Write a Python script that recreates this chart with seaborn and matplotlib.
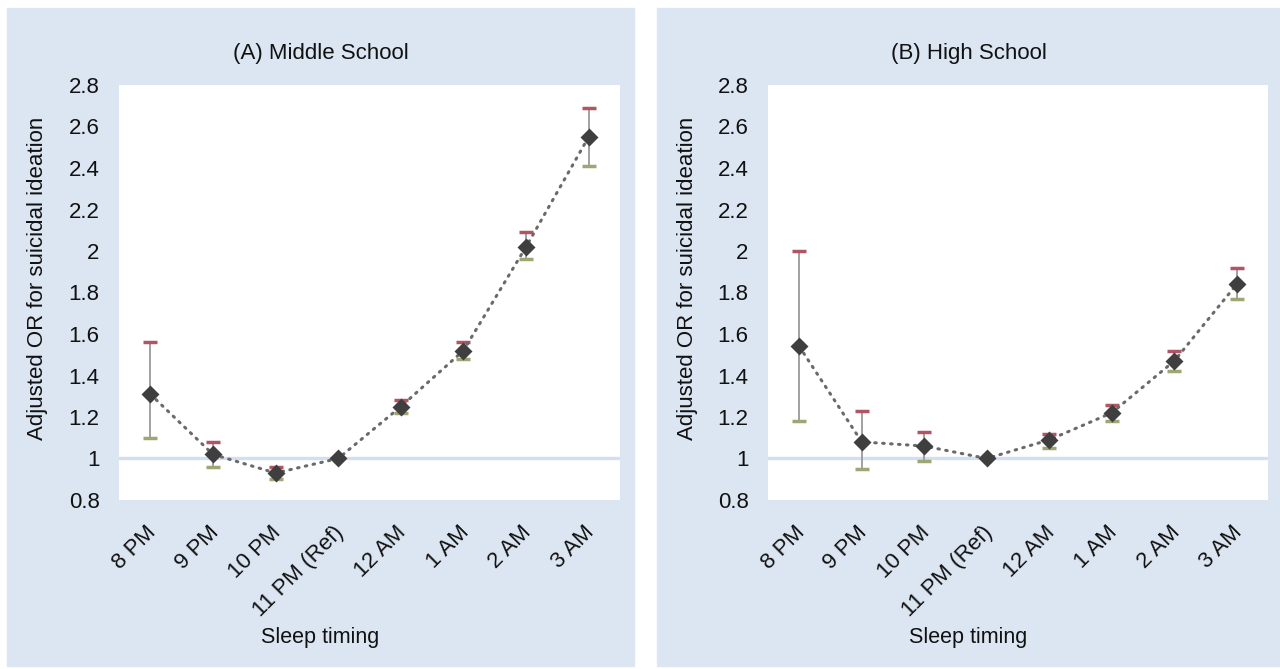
import numpy as np
import pandas as pd
import seaborn as sns
import matplotlib.pyplot as plt
from matplotlib.patches import Rectangle
from matplotlib.ticker import FuncFormatter
from matplotlib.transforms import ScaledTranslation

times = ['8 PM', '9 PM', '10 PM', '11 PM (Ref)', '12 AM', '1 AM', '2 AM', '3 AM']

ms_or = [1.31, 1.02, 0.93, 1.00, 1.25, 1.52, 2.02, 2.55]
ms_upper = [1.56, 1.08, 0.96, 1.00, 1.28, 1.56, 2.09, 2.69]
ms_lower = [1.10, 0.96, 0.90, 1.00, 1.22, 1.48, 1.96, 2.41]

hs_or = [1.54, 1.08, 1.06, 1.00, 1.09, 1.22, 1.47, 1.84]
hs_upper = [2.00, 1.23, 1.13, 1.00, 1.12, 1.26, 1.52, 1.92]
hs_lower = [1.18, 0.95, 0.99, 1.00, 1.05, 1.18, 1.42, 1.77]

titles = ['(A) Middle School', '(B) High School']

sns.set_theme(style='white')
plt.rcParams['font.family'] = ['Liberation Sans', 'DejaVu Sans']

W, H = 1280, 669
fig = plt.figure(figsize=(12.8, 6.69), dpi=100)
panel_bg = '#dce6f2'
txt = '#111111'

# panel boxes and axes positions in pixels
panels = [(7, 634), (657, 1280)]
axes_px = [(119, 620), (768, 1268)]
top, bottom = 85, 500

series = [(ms_or, ms_upper, ms_lower), (hs_or, hs_upper, hs_lower)]
shift = ScaledTranslation(-5 / 100, -4 / 100, fig.dpi_scale_trans)

for i in range(2):
    px0, px1 = panels[i]
    fig.patches.append(Rectangle((px0 / W, 1 - 666 / H), (px1 - px0) / W, 658 / H,
                                 transform=fig.transFigure, color=panel_bg, zorder=-1))
    ax0, ax1 = axes_px[i]
    ax = fig.add_axes([ax0 / W, 1 - bottom / H, (ax1 - ax0) / W, (bottom - top) / H])
    ax.set_facecolor('white')

    vals, upper, lower = series[i]
    df = pd.DataFrame({'time': times, 'OR': vals, 'upper': upper, 'lower': lower})

    ax.axhline(1, color='#d3deee', lw=2.4, zorder=1)

    # error bars (skip the reference group)
    has_ci = df['upper'] != df['lower']
    pos = np.arange(len(times))[has_ci]
    ax.vlines(pos, df['lower'][has_ci], df['upper'][has_ci], color='#9a9a9a', lw=1.3, zorder=2)
    ax.scatter(pos, df['upper'][has_ci], marker='_', s=110, lw=2.5, color='#b05566', zorder=3)
    ax.scatter(pos, df['lower'][has_ci], marker='_', s=110, lw=2.5, color='#9ea673', zorder=3)

    sns.pointplot(data=df, x='time', y='OR', order=times, ax=ax, errorbar=None,
                  color='#3f3f3f', marker='D', markersize=7.5, linestyle='none', zorder=5)
    sns.lineplot(x=np.arange(len(times)), y=df['OR'], ax=ax, color='#6a6a6a', lw=2.2,
                 linestyle=(0, (0.5, 2.1)), dash_capstyle='round', zorder=4, sort=False)

    ax.set_xlim(-0.5, len(times) - 0.5)
    ax.set_ylim(0.8, 2.8)
    ax.set_yticks(np.arange(0.8, 2.81, 0.2))
    ax.yaxis.set_major_formatter(FuncFormatter(lambda v, p: '%g' % round(v, 1)))
    ax.set_xticks(range(len(times)))
    ax.set_xticklabels(times, rotation=45, ha='right', rotation_mode='anchor')
    ax.tick_params(axis='y', length=0, pad=14, labelsize=16, labelcolor=txt)
    ax.tick_params(axis='x', length=0, pad=13, labelsize=16, labelcolor=txt)
    for lab in ax.get_xticklabels():
        lab.set_transform(lab.get_transform() + shift)
    ax.set_xlabel('')
    ax.set_ylabel('')
    sns.despine(ax=ax, left=True, bottom=True)

    cx = (px0 + px1) / 2 / W
    fig.text(cx, 1 - 53 / H, titles[i], ha='center', va='center', fontsize=16, color=txt)
    fig.text(cx, 1 - 638 / H, 'Sleep timing', ha='center', va='center', fontsize=15.5, color=txt)
    fig.text((px0 + 31) / W, 1 - 278 / H, 'Adjusted OR for suicidal ideation', rotation=90,
             ha='center', va='center', fontsize=16, color=txt)

fig.savefig('out.png', dpi=100, facecolor='white')
